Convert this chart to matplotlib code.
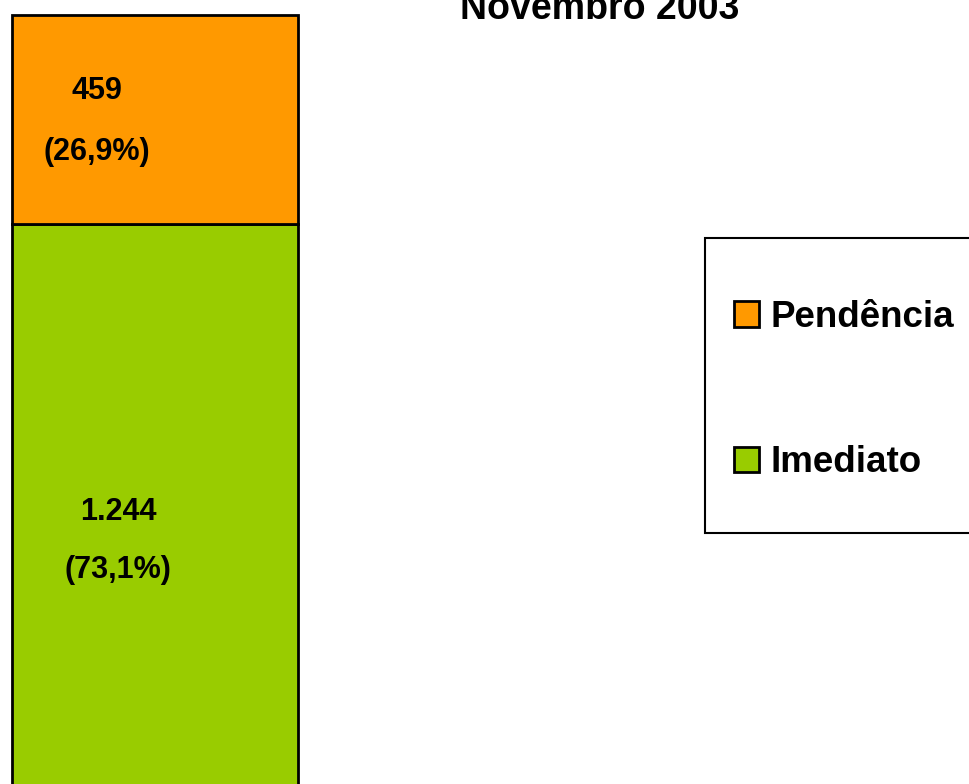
import matplotlib.pyplot as plt
from matplotlib.patches import Rectangle

plt.rcParams['font.family'] = ['Liberation Sans', 'DejaVu Sans']
plt.rcParams['font.weight'] = 'bold'

# data
categories = ['Imediato', 'Pendência']
values = [1244, 459]
value_labels = ['1.244', '459']
pct_labels = ['(73,1%)', '(26,9%)']
colors = ['#99CC00', '#FF9900']
title = 'Novembro 2003'

W, H = 970, 784
fig = plt.figure(figsize=(W / 100, H / 100), dpi=100)

# axes runs past the bottom edge so the bar is cropped like the original
ax = fig.add_axes([12 / W, (H - 792) / H, 286 / W, 777 / H])
ax.set_xlim(-0.5, 0.5)
ax.set_ylim(0, sum(values))
ax.axis('off')

bars = []
bottom = 0
for cat, v, c in zip(categories, values, colors):
    b = ax.bar(0, v, width=1.0, bottom=bottom, color=c, edgecolor='black',
               linewidth=2, label=cat, clip_on=False)
    bars.append(b)
    bottom += v

# labels inside segments (x offset, fraction of segment height for each line)
label_x = [-0.129, -0.203]
val_frac = [0.479, 0.60]
pct_frac = [0.377, 0.31]
bottom = 0
for i, v in enumerate(values):
    ax.text(label_x[i], bottom + val_frac[i] * v, value_labels[i], ha='center',
            va='baseline', fontsize=22, fontweight='bold')
    ax.text(label_x[i], bottom + pct_frac[i] * v, pct_labels[i], ha='center',
            va='baseline', fontsize=22, fontweight='bold')
    bottom += v

fig.text(600 / W, 1 - 19 / H, title, ha='center', va='baseline',
         fontsize=27, fontweight='bold')

# legend frame drawn separately (it runs off the right edge)
fig.patches.append(Rectangle((705 / W, 1 - 533 / H), 300 / W, 295 / H,
                             transform=fig.transFigure, facecolor='white',
                             edgecolor='black', linewidth=1.5, zorder=0))

leg = fig.legend(handles=bars[::-1], labels=categories[::-1], loc='upper left',
                 bbox_to_anchor=(734 / W, 1 - 300 / H), frameon=False,
                 handlelength=0.68, handleheight=0.68,
                 handletextpad=0.32, labelspacing=3.0, borderpad=0,
                 borderaxespad=0, prop={'weight': 'bold', 'size': 26.5})

fig.savefig('out.png', dpi=100)
